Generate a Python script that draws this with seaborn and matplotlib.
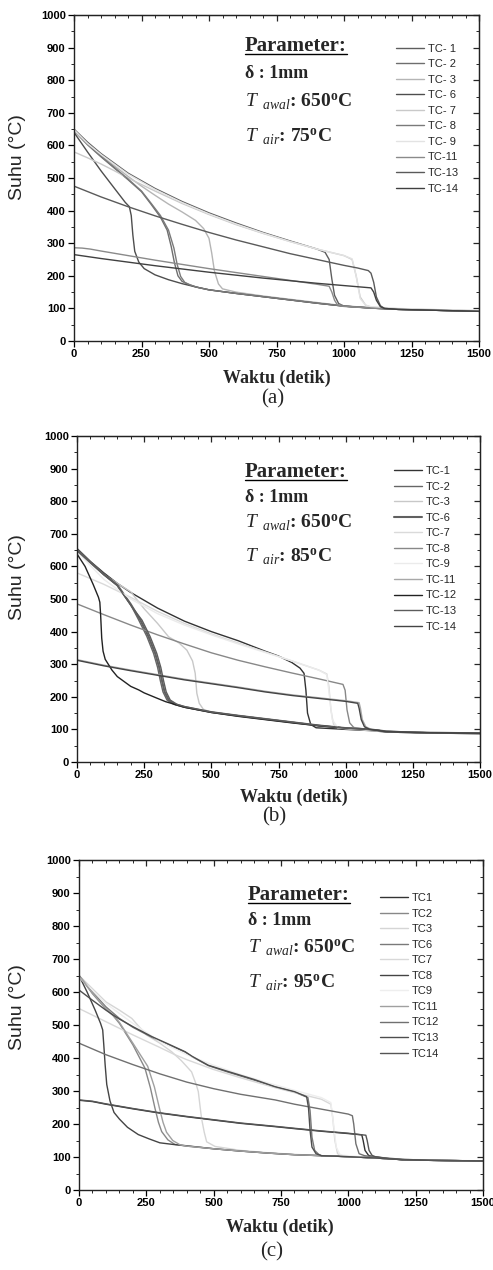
import matplotlib
matplotlib.use("Agg")
import matplotlib.pyplot as plt
import seaborn as sns
from matplotlib.lines import Line2D
from matplotlib.ticker import MultipleLocator

# ---------------- data: panel (a) T_air = 75 C ----------------
A_TC1_T = [0,50,100,150,200,300,400,500,600,700,800,900,930,945,955,965,980,1000,1100,1200,1300,1400,1500]
A_TC1_Y = [650,610,575,545,515,468,428,393,362,333,307,282,272,250,190,140,115,107,102,98,96,94,92]
A_TC2_T = [0,50,100,150,200,250,285,320,345,360,372,385,400,420,450,500,600,700,800,900,1000,1100,1200,1300,1400,1500]
A_TC2_Y = [645,602,565,530,495,458,420,380,340,290,240,200,183,175,166,157,146,136,126,116,107,101,97,95,93,91]
A_TC3_T = [0,50,100,150,200,250,300,350,400,450,480,500,510,520,535,550,600,700,800,900,1000,1100,1200,1300,1400,1500]
A_TC3_Y = [645,605,570,537,505,475,447,420,396,370,345,315,270,215,175,160,150,138,128,118,108,102,98,95,93,91]
A_TC6_T = [0,50,100,150,190,205,212,218,225,240,260,300,350,400,450,500,600,700,800,900,1000,1100,1200,1300,1400,1500]
A_TC6_Y = [640,580,522,468,425,412,385,325,275,242,222,203,188,176,166,157,146,136,126,116,107,101,97,95,93,91]
A_TC7_T = [0,50,100,150,200,300,400,500,600,700,800,900,1000,1030,1045,1060,1080,1100,1200,1300,1400,1500]
A_TC7_Y = [580,562,543,522,500,460,422,388,357,330,305,282,262,250,200,135,110,104,99,97,95,93]
A_TC8_T = [0,50,100,150,200,250,285,320,350,370,382,395,410,430,460,500,600,700,800,900,1000,1100,1200,1300,1400,1500]
A_TC8_Y = [648,605,567,532,497,460,423,385,340,285,235,198,180,172,164,157,146,136,126,116,107,101,97,95,93,91]
A_TC9_T = [0,50,100,150,200,300,400,500,600,700,800,900,1000,1030,1045,1060,1080,1100,1200,1300,1400,1500]
A_TC9_Y = [648,606,572,542,512,465,425,390,359,331,305,282,262,252,200,130,110,105,100,97,95,93]
A_TC11_T = [0,30,60,100,200,300,400,500,600,700,800,900,945,955,965,975,990,1000,1100,1200,1300,1400,1500]
A_TC11_Y = [286,285,282,276,262,248,235,222,210,198,186,174,168,150,125,112,107,106,101,97,95,93,91]
A_TC13_T = [0,100,200,300,400,500,600,700,800,900,1000,1050,1090,1100,1110,1120,1135,1150,1200,1300,1400,1500]
A_TC13_Y = [475,442,412,384,358,333,310,289,268,250,232,224,216,208,180,135,108,100,97,95,93,91]
A_TC14_T = [0,100,200,300,400,500,600,700,800,900,1000,1100,1110,1120,1135,1150,1200,1300,1400,1500]
A_TC14_Y = [265,253,242,231,221,211,202,193,185,177,170,163,150,125,105,100,97,95,93,91]
A_LABELS = ["TC- 1","TC- 2","TC- 3","TC- 6","TC- 7","TC- 8","TC- 9","TC-11","TC-13","TC-14"]

# ---------------- data: panel (b) T_air = 85 C ----------------
B_TC1_T = [0,50,100,150,200,300,400,500,600,700,750,800,830,845,852,858,870,890,1000,1100,1150,1200,1300,1400,1500]
B_TC1_Y = [655,615,580,548,520,472,432,400,372,340,325,305,288,272,220,150,115,105,100,96,92,91,89,88,87]
B_TC2_T = [0,50,100,150,200,230,260,285,300,310,320,335,360,400,500,600,700,800,900,1000,1100,1150,1200,1300,1400,1500]
B_TC2_Y = [650,612,575,542,482,435,385,333,290,250,215,190,177,168,153,142,132,122,112,104,99,94,92,90,89,88]
B_TC3_T = [0,50,100,150,200,250,300,341,380,409,430,440,446,455,470,500,600,700,800,900,1000,1100,1200,1300,1400,1500]
B_TC3_Y = [648,610,575,548,522,470,425,384,365,343,310,272,211,180,162,152,142,132,122,112,104,98,93,90,89,88]
B_TC6_T = [0,50,100,150,200,236,266,291,306,316,326,341,366,400,500,600,700,800,900,1000,1100,1150,1200,1300,1400,1500]
B_TC6_Y = [652,613,576,543,484,435,385,333,290,250,215,190,177,169,153,142,132,122,112,104,99,94,92,90,89,88]
B_TC7_T = [0,100,200,300,400,500,600,700,800,900,930,938,945,955,970,1000,1100,1200,1300,1400,1500]
B_TC7_Y = [580,545,505,462,425,393,365,338,310,282,270,230,160,115,105,102,97,92,90,89,88]
B_TC8_T = [0,100,200,300,400,500,600,700,800,900,990,998,1005,1015,1030,1100,1200,1300,1400,1500]
B_TC8_Y = [485,452,420,390,362,335,312,292,273,255,238,220,160,120,106,98,92,90,89,88]
B_TC9_T = [0,100,200,300,400,500,600,700,800,900,930,940,950,970,1100,1200,1500]
B_TC9_Y = [645,560,500,455,420,390,362,336,310,282,268,200,130,106,97,92,88]
B_TC11_T = [0,100,200,300,400,500,600,700,800,900,1000,1050,1055,1062,1075,1095,1150,1200,1300,1400,1500]
B_TC11_Y = [314,297,282,268,254,242,230,217,206,197,188,182,165,130,108,100,93,92,90,89,88]
B_TC12_T = [0,30,60,80,85,88,92,97,105,130,150,200,230,250,300,330,400,500,600,700,800,900,1000,1100,1150,1200,1300,1400,1500]
B_TC12_Y = [638,600,545,505,490,450,380,340,315,282,262,232,221,212,195,185,168,152,140,130,120,111,104,99,94,92,90,89,88]
B_TC13_T = [0,50,100,150,200,242,272,297,312,322,332,347,372,400,500,600,700,800,900,1000,1100,1150,1200,1300,1400,1500]
B_TC13_Y = [648,611,574,541,481,435,385,333,290,250,215,190,177,170,153,142,132,122,112,104,99,94,92,90,89,88]
B_TC14_T = [0,100,200,300,400,500,600,700,800,900,1000,1045,1050,1058,1070,1090,1150,1200,1300,1400,1500]
B_TC14_Y = [312,295,280,266,252,240,228,215,204,195,186,180,165,130,108,100,93,92,90,89,88]
B_LABELS = ["TC-1","TC-2","TC-3","TC-6","TC-7","TC-8","TC-9","TC-11","TC-12","TC-13","TC-14"]

# ---------------- data: panel (c) T_air = 95 C ----------------
C_TC1_T = [0,50,100,200,300,400,500,600,728,800,900,1000,1050,1055,1062,1075,1090,1150,1200,1300,1400,1500]
C_TC1_Y = [272,268,260,246,233,222,212,202,192,186,178,171,167,150,120,105,101,95,92,90,89,88]
C_TC2_T = [0,50,100,127,150,200,245,265,282,295,307,330,356,400,500,600,700,800,900,1000,1100,1200,1300,1400,1500]
C_TC2_Y = [650,595,548,528,505,440,369,310,248,205,177,152,138,133,125,118,112,107,104,101,97,92,90,89,88]
C_TC3_T = [0,50,100,150,196,250,300,344,380,418,435,443,450,455,465,474,505,600,700,800,900,1000,1100,1200,1300,1400,1500]
C_TC3_Y = [650,610,570,545,520,470,445,419,392,358,320,298,250,217,175,146,132,120,113,108,104,101,97,93,90,89,88]
C_TC6_T = [0,50,100,150,200,270,330,394,420,480,550,650,728,800,850,858,865,875,890,900,1000,1100,1200,1300,1400,1500]
C_TC6_Y = [650,600,555,520,493,463,441,418,404,377,358,333,312,297,280,240,160,120,108,104,101,97,92,90,89,88]
C_TC7_T = [0,50,100,150,200,300,356,400,500,600,728,800,900,935,942,950,960,980,1000,1100,1200,1300,1400,1500]
C_TC7_Y = [550,530,510,490,470,432,410,395,365,340,310,295,275,260,220,150,110,103,101,97,93,90,89,88]
C_TC8_T = [0,30,60,80,88,92,97,103,115,130,150,180,220,260,300,350,400,500,600,700,800,900,1000,1100,1200,1300,1400,1500]
C_TC8_Y = [650,600,545,505,485,440,380,320,270,235,215,190,168,155,143,138,134,125,118,112,107,104,101,97,92,90,89,88]
C_TC9_T = [0,100,200,300,400,500,600,700,800,900,935,945,955,970,1100,1200,1500]
C_TC9_Y = [645,565,505,450,410,378,350,325,302,280,265,200,130,106,97,93,88]
C_TC11_T = [0,50,100,127,150,200,255,280,298,312,325,348,375,400,500,600,700,800,900,1000,1100,1200,1300,1400,1500]
C_TC11_Y = [650,597,550,530,508,445,375,312,250,205,175,150,137,133,125,118,112,107,104,101,97,92,90,89,88]
C_TC12_T = [0,100,200,300,356,400,500,600,728,800,900,1000,1015,1020,1028,1040,1060,1100,1200,1300,1400,1500]
C_TC12_Y = [445,410,380,352,338,327,307,290,273,260,245,230,225,200,140,110,104,100,93,90,89,88]
C_TC13_T = [0,50,100,127,150,200,270,330,394,420,480,550,650,728,800,845,852,858,865,880,900,1000,1100,1200,1300,1400,1500]
C_TC13_Y = [606,575,545,530,518,495,465,443,419,405,378,360,335,313,298,283,250,180,130,110,104,101,97,92,90,89,88]
C_TC14_T = [0,50,100,200,300,400,500,600,728,800,900,1000,1065,1070,1077,1088,1100,1150,1200,1300,1400,1500]
C_TC14_Y = [273,269,261,247,234,223,213,203,193,187,179,172,166,150,120,105,101,95,92,90,89,88]
C_LABELS = ["TC1","TC2","TC3","TC6","TC7","TC8","TC9","TC11","TC12","TC13","TC14"]

X_TICKS = [0, 250, 500, 750, 1000, 1250, 1500]
Y_TICKS = [0, 100, 200, 300, 400, 500, 600, 700, 800, 900, 1000]
T_AIR = ["75", "85", "95"]
PANEL_TAGS = ["(a)", "(b)", "(c)"]

# ---------------- styles ----------------
A_COLORS = ["#5e5e5e","#6e6e6e","#b5b5b5","#4e4e4e","#c9c9c9","#7a7a7a","#e3e3e3","#8a8a8a","#5a5a5a","#404040"]
B_COLORS = ["#333333","#666666","#c8c8c8","#606060","#dadada","#888888","#ebebeb","#a8a8a8","#222222","#5c5c5c","#444444"]
C_COLORS = ["#333333","#888888","#d5d5d5","#7a7a7a","#d8d8d8","#444444","#eeeeee","#a0a0a0","#707070","#4e4e4e","#555555"]
B_LW = [1.0,1.0,1.0,1.5,1.0,1.0,1.0,1.0,1.0,1.0,1.0]

sns.set_style("ticks")
plt.rcParams["font.family"] = ["Liberation Sans", "DejaVu Sans"]
plt.rcParams["mathtext.fontset"] = "custom"
plt.rcParams["mathtext.rm"] = "Liberation Serif"
plt.rcParams["mathtext.it"] = "Liberation Serif:italic"
plt.rcParams["mathtext.bf"] = "Liberation Serif:bold"

W, H = 493, 1270
fig = plt.figure(figsize=(W / 100, H / 100), dpi=100)

panels = [
    dict(rect=[74, 15, 479, 341],
         series=list(zip(A_LABELS,
                         [A_TC1_T,A_TC2_T,A_TC3_T,A_TC6_T,A_TC7_T,A_TC8_T,A_TC9_T,A_TC11_T,A_TC13_T,A_TC14_T],
                         [A_TC1_Y,A_TC2_Y,A_TC3_Y,A_TC6_Y,A_TC7_Y,A_TC8_Y,A_TC9_Y,A_TC11_Y,A_TC13_Y,A_TC14_Y])),
         colors=A_COLORS, lws=[1.0]*10,
         txt_x=245, txt_base=[51, 78, 107, 142], leg=(396, 43.5),
         xlab=(277, 378), tag=(273, 399), ylab=(18, 157)),
    dict(rect=[77, 436, 480, 762],
         series=list(zip(B_LABELS,
                         [B_TC1_T,B_TC2_T,B_TC3_T,B_TC6_T,B_TC7_T,B_TC8_T,B_TC9_T,B_TC11_T,B_TC12_T,B_TC13_T,B_TC14_T],
                         [B_TC1_Y,B_TC2_Y,B_TC3_Y,B_TC6_Y,B_TC7_Y,B_TC8_Y,B_TC9_Y,B_TC11_Y,B_TC12_Y,B_TC13_Y,B_TC14_Y])),
         colors=B_COLORS, lws=B_LW,
         txt_x=245, txt_base=[477, 502, 528, 562], leg=(394, 466),
         xlab=(294, 797), tag=(274, 817), ylab=(18, 577)),
    dict(rect=[79, 860, 483, 1190],
         series=list(zip(C_LABELS,
                         [C_TC1_T,C_TC2_T,C_TC3_T,C_TC6_T,C_TC7_T,C_TC8_T,C_TC9_T,C_TC11_T,C_TC12_T,C_TC13_T,C_TC14_T],
                         [C_TC1_Y,C_TC2_Y,C_TC3_Y,C_TC6_Y,C_TC7_Y,C_TC8_Y,C_TC9_Y,C_TC11_Y,C_TC12_Y,C_TC13_Y,C_TC14_Y])),
         colors=C_COLORS, lws=[1.0]*11,
         txt_x=248, txt_base=[900, 925, 953, 988], leg=(380, 893),
         xlab=(280, 1227), tag=(272, 1252), ylab=(18, 1007)),
]

def fx(px):
    return px / W

def fy(py):
    return 1 - py / H

underline_jobs = []
for i, p in enumerate(panels):
    x0, y0, x1, y1 = p["rect"]
    ax = fig.add_axes([fx(x0), fy(y1), (x1 - x0) / W, (y1 - y0) / H])
    for (lab, t, y), c, lw in zip(p["series"], p["colors"], p["lws"]):
        sns.lineplot(x=t, y=y, ax=ax, color=c, linewidth=lw, label=lab,
                     estimator=None, sort=False)
    ax.set_xlim(0, 1500)
    ax.set_ylim(0, 1000)
    ax.set_xticks(X_TICKS)
    ax.set_yticks(Y_TICKS)
    ax.xaxis.set_minor_locator(MultipleLocator(50))
    ax.yaxis.set_minor_locator(MultipleLocator(50))
    ax.tick_params(which="major", direction="out", length=4, width=0.9, pad=2,
                   labelsize=8, colors="black")
    ax.tick_params(which="minor", direction="out", length=2, width=0.7)
    for lab in ax.get_xticklabels() + ax.get_yticklabels():
        lab.set_fontweight("bold")
    for s in ax.spines.values():
        s.set_visible(True)
        s.set_linewidth(1.0)
        s.set_color("#222222")
    # inward ticks on the top and right frame
    top = ax.secondary_xaxis("top")
    top.set_xticks(X_TICKS)
    top.xaxis.set_minor_locator(MultipleLocator(50))
    top.tick_params(which="major", direction="in", length=4, width=0.9, labeltop=False)
    top.tick_params(which="minor", direction="in", length=2, width=0.7)
    right = ax.secondary_yaxis("right")
    right.set_yticks(Y_TICKS)
    right.yaxis.set_minor_locator(MultipleLocator(50))
    right.tick_params(which="major", direction="in", length=4, width=0.9, labelright=False)
    right.tick_params(which="minor", direction="in", length=2, width=0.7)
    ax.set_xlabel("")
    ax.set_ylabel("")

    # legend
    lx, ly = p["leg"]
    ax.legend(loc="upper left",
              bbox_to_anchor=((lx - x0) / (x1 - x0), (y1 - ly) / (y1 - y0)),
              frameon=False, fontsize=8, handlelength=2.5, handletextpad=0.35,
              labelspacing=0.5, borderpad=0, borderaxespad=0)

    # parameter text block
    tx = (p["txt_x"] - x0) / (x1 - x0)
    bases = [(y1 - b) / (y1 - y0) for b in p["txt_base"]]
    serif = ["Liberation Serif", "DejaVu Serif"]
    t_par = ax.text(tx, bases[0], "Parameter:", transform=ax.transAxes, va="baseline",
                    ha="left", fontsize=15, fontweight="bold", family=serif)
    ax.text(tx, bases[1], "δ : 1mm", transform=ax.transAxes, va="baseline",
            ha="left", fontsize=13, fontweight="bold", family=serif)
    ax.text(tx, bases[2], r"$T_{\ \ awal}$: 650$^{\mathbf{o}}$C", transform=ax.transAxes,
            va="baseline", ha="left", fontsize=14, fontweight="bold", family=serif)
    ax.text(tx, bases[3], r"$T_{\ \ air}$: " + T_AIR[i] + r"$^{\mathbf{o}}$C",
            transform=ax.transAxes, va="baseline", ha="left", fontsize=14,
            fontweight="bold", family=serif)
    underline_jobs.append((t_par, p["txt_base"][0] + 3))

    # axis labels and panel tag
    fig.text(fx(p["xlab"][0]), fy(p["xlab"][1]), "Waktu (detik)", ha="center", va="center",
             fontsize=13, fontweight="bold", family=serif)
    fig.text(fx(p["tag"][0]), fy(p["tag"][1]), PANEL_TAGS[i], ha="center", va="center",
             fontsize=15, family=serif)
    fig.text(fx(p["ylab"][0]), fy(p["ylab"][1]), "Suhu (°C)", ha="center", va="center",
             rotation=90, fontsize=14)

fig.canvas.draw()
for t_par, uy in underline_jobs:
    bb = t_par.get_window_extent()
    fig.add_artist(Line2D([bb.x0 / W, bb.x1 / W], [fy(uy), fy(uy)],
                          transform=fig.transFigure, color="black", linewidth=1.0))

fig.savefig("out.png", dpi=100)
